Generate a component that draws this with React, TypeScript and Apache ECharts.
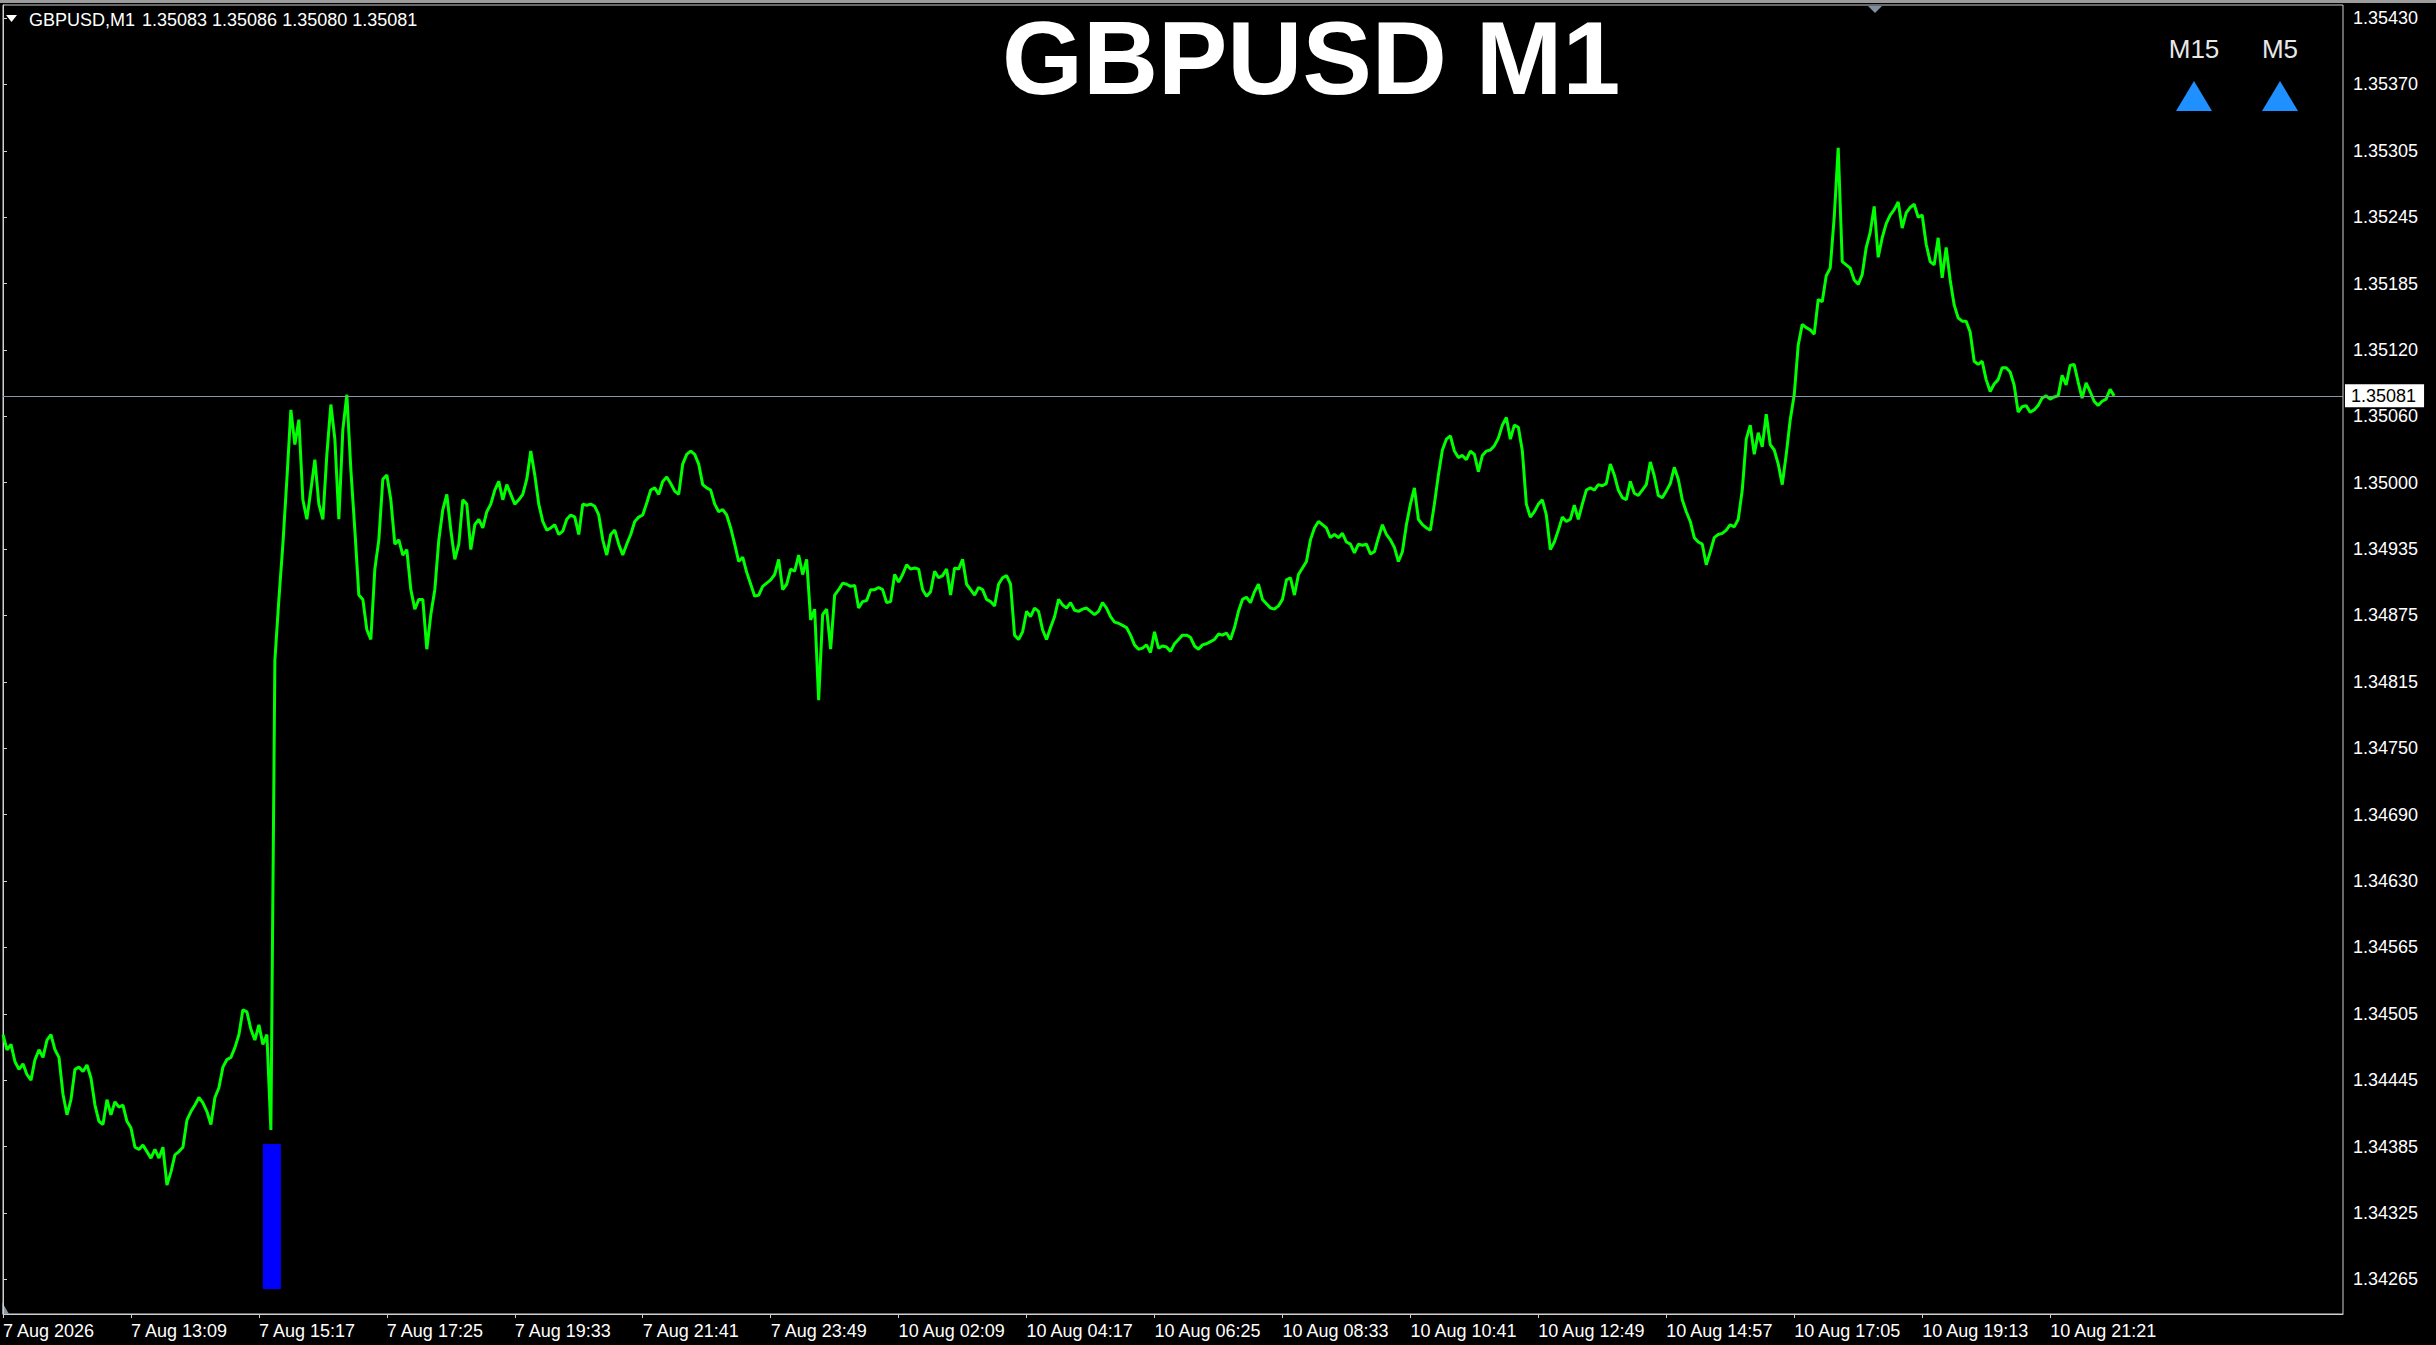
import React, { useEffect, useRef } from 'react';
import * as echarts from 'echarts';

// MT4 style GBPUSD M1 line chart

const symbolName = 'GBPUSD';
const periodName = 'M1';
const lastBar = [1.35083, 1.35086, 1.3508, 1.35081]; // open, high, low, close
const currentPrice = 1.35081;
const trendSignals = ['M15', 'M5'];

// one close every 4 minutes, one label every 128 minutes
const barStep = 4;
const labelStep = 128;
const visibleBars = 2341;

const timeLabels = [
    '7 Aug 2026', '7 Aug 13:09', '7 Aug 15:17', '7 Aug 17:25', '7 Aug 19:33', '7 Aug 21:41',
    '7 Aug 23:49', '10 Aug 02:09', '10 Aug 04:17', '10 Aug 06:25', '10 Aug 08:33', '10 Aug 10:41',
    '10 Aug 12:49', '10 Aug 14:57', '10 Aug 17:05', '10 Aug 19:13', '10 Aug 21:21',
];

const priceTicks = [
    '1.35430', '1.35370', '1.35305', '1.35245', '1.35185', '1.35120', '1.35060', '1.35000',
    '1.34935', '1.34875', '1.34815', '1.34750', '1.34690', '1.34630', '1.34565', '1.34505',
    '1.34445', '1.34385', '1.34325', '1.34265',
];
const yMin = 1.34233;
const yMax = 1.35442;

const fridayMorning = [
    1.34491, 1.34477, 1.34482, 1.34466, 1.34459, 1.34464, 1.34454, 1.34449, 1.34468, 1.34477,
    1.3447, 1.34486, 1.34491, 1.34477, 1.3447, 1.34436, 1.34417, 1.34431, 1.34459, 1.34461,
    1.34457, 1.34463, 1.34451, 1.34426, 1.34411, 1.34408, 1.34431, 1.34417, 1.34429, 1.34424,
    1.34426, 1.34411, 1.34405, 1.34387, 1.34385, 1.34389, 1.34383, 1.34377, 1.34385, 1.34377,
    1.34387, 1.34352, 1.34364, 1.3438, 1.34383, 1.34387, 1.34412, 1.3442, 1.34426, 1.34433,
    1.34428, 1.3442, 1.34408, 1.34433, 1.34442, 1.34461, 1.34468, 1.3447, 1.34479, 1.34491,
    1.34514, 1.34512, 1.34496, 1.34486, 1.345, 1.34482, 1.34491, 1.34403,
];

const fridayAfternoon = [
    1.34837, 1.34893, 1.34944, 1.35004, 1.35068, 1.35036, 1.35059, 1.34985, 1.34967, 1.34994,
    1.35022, 1.34981, 1.34967, 1.35027, 1.35073, 1.35041, 1.34967, 1.3505, 1.35082, 1.35013,
    1.34957, 1.34897, 1.34893, 1.34865, 1.34856, 1.34921, 1.34948, 1.35004, 1.35008, 1.34985,
    1.34944, 1.34948, 1.34934, 1.34939, 1.34902, 1.34884, 1.34893, 1.34893, 1.34847, 1.34879,
    1.34902, 1.34948, 1.34976, 1.3499, 1.34957, 1.3493, 1.34944, 1.34985, 1.34981, 1.34939,
    1.34962, 1.34967, 1.34959, 1.34974, 1.34981, 1.34994, 1.35002, 1.34985, 1.34999, 1.3499,
    1.34981, 1.34985, 1.3499, 1.35004, 1.3503, 1.35008, 1.34981, 1.34965, 1.34957, 1.34959,
    1.34962, 1.34953, 1.34956, 1.34967, 1.34971, 1.34969, 1.34953, 1.34981, 1.3498, 1.34981,
    1.34979, 1.34971, 1.34948, 1.34934, 1.34953, 1.34957, 1.34944, 1.34934, 1.34944, 1.34953,
    1.34965, 1.34969, 1.34971, 1.34982, 1.34994, 1.34996, 1.3499, 1.35002, 1.35006, 1.35,
    1.34993, 1.3499, 1.35018, 1.35027, 1.3503, 1.35027, 1.35018, 1.34999, 1.34996, 1.34994,
    1.34981, 1.34974, 1.34976, 1.34971, 1.34959, 1.34944, 1.34928, 1.34932, 1.34918, 1.34907,
    1.34896, 1.34897, 1.34905, 1.34908, 1.34911, 1.34916, 1.3493,
];

const mondayEarly = [
    1.34902, 1.34907, 1.34921, 1.34919, 1.34934, 1.34916, 1.3493, 1.34874, 1.34884, 1.348,
    1.34879, 1.34884, 1.34847, 1.34897, 1.34902, 1.34908, 1.34907, 1.34905, 1.34906, 1.34885,
    1.34891, 1.34892, 1.34902, 1.34902, 1.34904, 1.34902, 1.3489, 1.34891, 1.34916, 1.34909,
    1.34916, 1.34925, 1.34921, 1.34922, 1.34921, 1.34902, 1.34896, 1.349, 1.34919, 1.34913,
    1.34915, 1.34921, 1.34897, 1.34922, 1.34921, 1.3493, 1.34907, 1.34902, 1.34897, 1.34904,
    1.34902, 1.34893, 1.34891, 1.34887, 1.34907, 1.34913, 1.34915, 1.34907, 1.3486, 1.34856,
    1.34863, 1.34882, 1.34877, 1.34885, 1.34882, 1.34865, 1.34856, 1.34867, 1.34877, 1.34893,
    1.34888, 1.34885, 1.3489, 1.34883, 1.34882, 1.34884, 1.34885, 1.34882, 1.34879, 1.34882,
    1.3489, 1.34885, 1.34877, 1.34872, 1.34871, 1.34869, 1.34867, 1.3486, 1.34851, 1.34847,
    1.34848, 1.34851, 1.34844, 1.34863, 1.34848, 1.3485, 1.34849, 1.34845, 1.34852, 1.34856,
    1.3486, 1.3486, 1.34858, 1.3485, 1.34847, 1.34851, 1.34852, 1.34854, 1.34856, 1.34861,
    1.3486, 1.34862, 1.34856, 1.34867, 1.34882, 1.34893, 1.34895, 1.3489, 1.349, 1.34907,
    1.34893, 1.34889, 1.34885, 1.34884, 1.34887, 1.34893, 1.34911, 1.34913, 1.34897, 1.34916,
    1.34922, 1.34928, 1.34948, 1.34959, 1.34965, 1.34962, 1.34959, 1.3495, 1.34953, 1.3495,
    1.34954, 1.34946, 1.34944, 1.34936, 1.34944, 1.34943, 1.34944, 1.34935, 1.34937, 1.3495,
    1.34962, 1.34953, 1.34948, 1.34941, 1.34928, 1.34937, 1.34962, 1.34981, 1.34996, 1.34967,
    1.34962, 1.34959, 1.34957, 1.34981, 1.35008, 1.35031, 1.35041, 1.35044, 1.3503, 1.35024,
    1.35026, 1.35022, 1.3503, 1.35027, 1.35011, 1.35026, 1.3503, 1.35031, 1.35035, 1.35042,
    1.35054, 1.35061, 1.35041, 1.35054, 1.35052, 1.3503, 1.34981, 1.34969, 1.34974, 1.34981,
    1.34985, 1.34971, 1.34939, 1.34946, 1.34957, 1.34969, 1.34965, 1.34967, 1.3498, 1.34967,
    1.34981, 1.34994, 1.34996, 1.34994, 1.34999,
];

const mondayLate = [
    1.34998, 1.35, 1.35018, 1.35008, 1.34994, 1.34987, 1.34985, 1.35002, 1.34991, 1.34989,
    1.34994, 1.34999, 1.3502, 1.35007, 1.34989, 1.34987, 1.34993, 1.35, 1.35015, 1.35004,
    1.34985, 1.34974, 1.34965, 1.3495, 1.34946, 1.34944, 1.34925, 1.34937, 1.3495, 1.34953,
    1.34954, 1.34957, 1.34962, 1.3496, 1.34967, 1.34994, 1.35041, 1.35054, 1.35027, 1.35047,
    1.35034, 1.35064, 1.35036, 1.35031, 1.35018, 1.34999, 1.35027, 1.35059, 1.35082, 1.35128,
    1.35147, 1.35144, 1.35142, 1.35138, 1.3517, 1.35168, 1.35192, 1.35199, 1.35246, 1.3531,
    1.35205, 1.35202, 1.35199, 1.35188, 1.35184, 1.35193, 1.35218, 1.35232, 1.35256, 1.35209,
    1.35227, 1.3524, 1.35248, 1.35253, 1.3526, 1.35236, 1.3525, 1.35255, 1.35258, 1.35246,
    1.35248, 1.35221, 1.35205, 1.35202, 1.35227, 1.3519, 1.35218, 1.35188, 1.35165, 1.35153,
    1.3515, 1.3515, 1.3514, 1.35113, 1.3511, 1.35113, 1.35096, 1.35085, 1.35092, 1.35096,
    1.35107, 1.35107, 1.35103, 1.35091, 1.35066, 1.35071, 1.35072, 1.35066, 1.35068, 1.35072,
    1.35079, 1.35081, 1.35078, 1.3508, 1.35081, 1.351, 1.35091, 1.35109, 1.3511, 1.35094,
    1.35079, 1.35093, 1.35085, 1.35076, 1.35072, 1.35076, 1.35078, 1.35087, 1.35081,
];

// blue indicator block around the jump
const signalBox = { fromBar: 260, toBar: 278, top: 1.3439, bottom: 1.34256 };

const FONT = '"Liberation Sans", Arial, sans-serif';

const App: React.FC = () => {
    const chartRef = useRef<HTMLDivElement>(null);

    useEffect(() => {
        document.body.style.margin = '0';
        document.body.style.background = '#000';
        if (!chartRef.current) return;
        const chart = echarts.init(chartRef.current, undefined, { renderer: 'svg' });

        const closes = [...fridayMorning, ...fridayAfternoon, ...mondayEarly, ...mondayLate];
        const lineData = closes.map((price, i) => [i * barStep, price]);

        const tickTop = Number(priceTicks[0]);
        const tickBottom = Number(priceTicks[priceTicks.length - 1]);
        const tickStep = (tickTop - tickBottom) / (priceTicks.length - 1);
        const yTickValues = priceTicks.map((_, i) => tickTop - i * tickStep);
        const xTickValues = timeLabels.map((_, i) => i * labelStep);

        const signalCenters = [2194, 2280];

        chart.setOption({
            animation: false,
            backgroundColor: '#000',
            grid: {
                left: 2,
                right: 93,
                top: 5,
                bottom: 31,
                show: true,
                borderColor: '#d0d0d0',
                borderWidth: 1,
                backgroundColor: '#000',
            },
            xAxis: {
                type: 'value',
                min: 0,
                max: visibleBars,
                axisLine: { show: true, lineStyle: { color: '#d0d0d0', width: 1 } },
                axisTick: { show: true, length: 4, customValues: xTickValues, lineStyle: { color: '#d0d0d0' } },
                axisLabel: {
                    customValues: xTickValues,
                    formatter: (v: number) => timeLabels[Math.round(v / labelStep)] ?? '',
                    color: '#fff',
                    fontSize: 18,
                    fontFamily: FONT,
                    align: 'left',
                    margin: 8,
                },
                splitLine: { show: false },
            },
            yAxis: {
                type: 'value',
                position: 'right',
                min: yMin,
                max: yMax,
                axisLine: { show: true, lineStyle: { color: '#d0d0d0', width: 1 } },
                axisTick: { show: true, length: 4, customValues: yTickValues, lineStyle: { color: '#d0d0d0' } },
                axisLabel: {
                    customValues: yTickValues,
                    formatter: (v: number) => priceTicks[Math.round((tickTop - v) / tickStep)] ?? '',
                    color: '#fff',
                    fontSize: 18,
                    fontFamily: FONT,
                    margin: 10,
                },
                splitLine: { show: false },
            },
            series: [
                {
                    type: 'line',
                    data: lineData,
                    showSymbol: false,
                    silent: true,
                    lineStyle: { color: '#00ff00', width: 3 },
                    z: 3,
                    markLine: {
                        silent: true,
                        symbol: 'none',
                        precision: 5,
                        lineStyle: { color: '#8796a5', width: 1, type: 'solid' },
                        label: {
                            show: true,
                            position: 'end',
                            distance: 2,
                            formatter: currentPrice.toFixed(5),
                            color: '#000',
                            backgroundColor: '#fff',
                            fontSize: 18,
                            fontFamily: FONT,
                            padding: [3, 8, 2, 6],
                        },
                        data: [{ yAxis: currentPrice }],
                    },
                    markArea: {
                        silent: true,
                        itemStyle: { color: '#0000ff', opacity: 1 },
                        data: [
                            [
                                { xAxis: signalBox.fromBar, yAxis: signalBox.top },
                                { xAxis: signalBox.toBar, yAxis: signalBox.bottom },
                            ],
                        ],
                    },
                },
            ],
            graphic: [
                { type: 'rect', shape: { x: 0, y: 0, width: 2436, height: 3 }, style: { fill: '#9c9c9c' }, silent: true },
                { type: 'polygon', shape: { points: [[6, 15], [17, 15], [11.5, 22]] }, style: { fill: '#fff' }, silent: true },
                {
                    type: 'text',
                    x: 29,
                    y: 20,
                    style: { text: `${symbolName},${periodName}`, fill: '#fff', fontSize: 18, fontFamily: FONT, verticalAlign: 'middle' },
                    silent: true,
                },
                {
                    type: 'text',
                    x: 142,
                    y: 20,
                    style: { text: lastBar.map(v => v.toFixed(5)).join(' '), fill: '#fff', fontSize: 18, fontFamily: FONT, verticalAlign: 'middle' },
                    silent: true,
                },
                {
                    type: 'text',
                    x: 1002,
                    y: 58,
                    style: {
                        text: `${symbolName} ${periodName}`,
                        fill: '#fff',
                        fontSize: 104,
                        fontWeight: 'bold',
                        fontFamily: FONT,
                        verticalAlign: 'middle',
                    },
                    silent: true,
                },
                ...trendSignals.flatMap((name, i) => [
                    {
                        type: 'text',
                        x: signalCenters[i],
                        y: 49,
                        style: { text: name, fill: '#e8e8e8', fontSize: 26, fontFamily: FONT, align: 'center', verticalAlign: 'middle' },
                        silent: true,
                    },
                    {
                        type: 'polygon',
                        shape: { points: [[signalCenters[i] - 18, 111], [signalCenters[i] + 18, 111], [signalCenters[i], 81]] },
                        style: { fill: '#1e90ff' },
                        silent: true,
                    },
                ]),
                { type: 'polygon', shape: { points: [[1868, 6], [1882, 6], [1875, 13]] }, style: { fill: '#8090a0' }, silent: true },
                { type: 'polygon', shape: { points: [[2, 1302], [2, 1314], [9, 1314]] }, style: { fill: '#8a96a4' }, silent: true },
            ],
        });

        return () => {
            chart.dispose();
        };
    }, []);

    return <div ref={chartRef} style={{ width: 2436, height: 1345, background: '#000' }} />;
};

export default App;
